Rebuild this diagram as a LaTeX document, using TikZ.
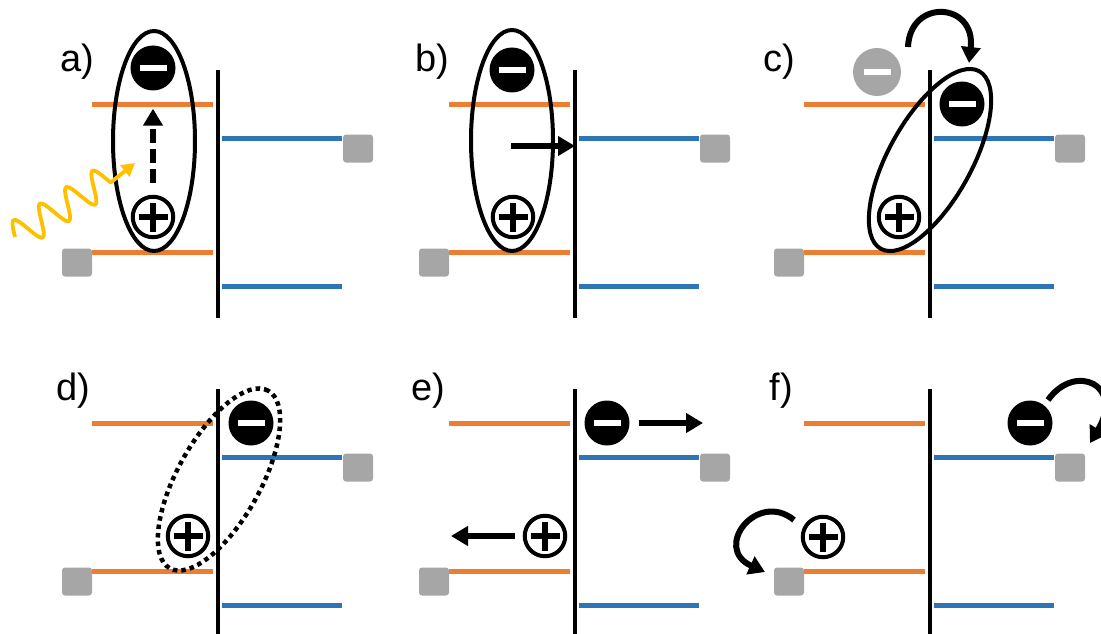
\documentclass[tikz,border=0pt]{standalone}
\usepackage{fontspec}
\setmainfont{Liberation Sans}
\usetikzlibrary{shapes.geometric,arrows.meta}
\definecolor{orng}{HTML}{ED7D31}
\definecolor{blu}{HTML}{2E75B6}
\definecolor{gry}{HTML}{A6A6A6}
\definecolor{gold}{HTML}{FFC000}
\tikzset{
  lvlO/.style={draw=orng, line width=5pt},
  lvlB/.style={draw=blu, line width=5pt},
  iface/.style={draw=black, line width=4pt},
  trap/.style={rectangle, fill=gry, rounded corners=3pt, minimum width=30pt, minimum height=28pt, inner sep=0pt},
  elec/.style={circle, fill=black, minimum size=45pt, inner sep=0pt,
    path picture={\fill[white] ([xshift=-13.5pt,yshift=-3pt]path picture bounding box.center) rectangle ++(27pt,6pt);}},
  ghost/.style={elec, fill=gry, minimum size=48pt},
  hole/.style={circle, draw=black, line width=4pt, fill=white, minimum size=40.5pt, inner sep=0pt,
    path picture={
      \fill[black] ([xshift=-14.5pt,yshift=-3.2pt]path picture bounding box.center) rectangle ++(29pt,6.4pt);
      \fill[black] ([xshift=-3.2pt,yshift=-14.5pt]path picture bounding box.center) rectangle ++(6.4pt,29pt);}},
  exciton/.style={ellipse, draw=black, line width=4pt, inner sep=0pt},
  loose/.style={exciton, line width=4.5pt, dash pattern=on 4.5pt off 4pt},
  lbl/.style={font=\fontsize{38}{42}\selectfont, anchor=base west, inner sep=0pt},
  arr/.style={draw=black, line width=5.5pt, -{Triangle[length=17pt,width=19pt]}},
  curv/.style={draw=black, line width=6pt, -{Triangle[length=16pt,width=19pt]}},
  photon/.style={draw=gold, line width=3.8pt, line join=round, -{Triangle[length=13pt,width=14pt]}},
}
\begin{document}
\begin{tikzpicture}[x=1pt,y=-1pt]
\useasboundingbox (0,0) rectangle (1101,634);
\clip (0,0) rectangle (1101,634);

% energy levels, interface and traps of the six panels
\foreach \dx/\dy/\yb/\p in {0/0/318/a, 357/0/318/b, 712/0/318/c, 0/319/320/d, 357/319/320/e, 712/319/320/f}{
  \begin{scope}[shift={(\dx,\dy)}]
    \draw[lvlO] (92,104) -- (213,104);
    \draw[lvlO] (92,252) -- (213,252);
    \draw[lvlB] (222,138) -- (342,138);
    \draw[lvlB] (222,286) -- (342,286);
    \draw[iface] (218,70) -- (218,\yb);
    \node[trap] (tl\p) at (77,262.5) {};
    \node[trap] (tr\p) at (358,148.5) {};
  \end{scope}
}

% labels
\node[lbl] (la) at (60,71) {a)};
\node[lbl] (lb) at (415,72) {b)};
\node[lbl] (lc) at (763.5,72) {c)};
\node[lbl] (ld) at (56,400) {d)};
\node[lbl] (le) at (411.5,400) {e)};
\node[lbl] (lf) at (769.5,400) {f)};

% excitons
\node[exciton, minimum width=82pt, minimum height=220pt] (xa) at (154,141) {};
\node[exciton, minimum width=82pt, minimum height=221pt] (xb) at (512,140.5) {};
\node[exciton, minimum width=203pt, minimum height=83pt, rotate=61] (xc) at (930,160) {};
\node[loose, minimum width=203pt, minimum height=83pt, rotate=61] (xd) at (219,479.5) {};

% charges
\node[elec] (ea) at (153,68) {};
\node[hole] (ha) at (153,217) {};
\node[elec] (eb) at (512,70) {};
\node[hole] (hb) at (513,217) {};
\node[ghost] (gc) at (877,72) {};
\node[elec] (ec) at (962,104) {};
\node[hole] (hc) at (899,217) {};
\node[elec] (ed) at (251,423) {};
\node[hole] (hd) at (188,536) {};
\node[elec] (ee) at (607,423) {};
\node[hole] (he) at (545,536) {};
\node[elec] (ef) at (1030,423) {};
\node[hole] (hf) at (823,537) {};

% a) excitation: photon and promotion
\coordinate (pht) at (135,163);
\draw[photon] plot[domain=0:110, samples=120, smooth]
  ({15 + 0.848*\x - 15*sin(11.6129*\x)*0.53}, {237 - 0.53*\x - 15*sin(11.6129*\x)*0.848}) -- (pht);
\draw[arr, line width=6pt, dash pattern=on 14pt off 6pt] ([yshift=12pt]ha.north) -- ([yshift=-18pt]ea.south);

% b) transfer towards the interface
\coordinate (bs) at (511,146);
\coordinate (bt) at (575,146);
\draw[arr] (bs) -- (bt);

% c) hop across the interface
\coordinate (cs) at (908,47);
\coordinate (ct) at (969,63);
\draw[curv] (cs) .. controls (910,-2) and (976,2) .. (ct);

% e) separation
\coordinate (eet) at (703,423);
\coordinate (het) at (451,536);
\draw[arr] ([xshift=9pt]ee.east) -- (eet);
\draw[arr] ([xshift=-8pt]he.west) -- (het);

% f) extraction to contacts
\coordinate (fes) at (1048,400);
\coordinate (fet) at (1090,443);
\draw[curv] (fes) .. controls (1075,362) and (1125,385) .. (fet);
\coordinate (fhs) at (794,520);
\coordinate (fht) at (765,572);
\draw[curv] (fhs) .. controls (757,490) and (712,548) .. (fht);
\end{tikzpicture}
\end{document}
